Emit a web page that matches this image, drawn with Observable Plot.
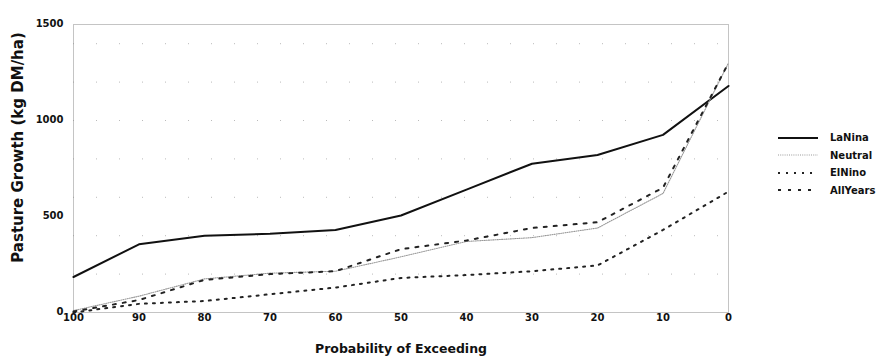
<!DOCTYPE html>
<html><head><meta charset="utf-8">
<script src="https://cdn.jsdelivr.net/npm/d3@7"></script>
<script src="https://cdn.jsdelivr.net/npm/@observablehq/plot@0.6"></script>
<style>
body{margin:0;background:#fff;font-family:"DejaVu Sans",Arial,sans-serif;}
#wrap{position:relative;width:884px;height:361px;}
#legend{position:absolute;left:778px;top:129px;font:bold 10px "DejaVu Sans",Arial,sans-serif;color:#111;}
#legend .row{display:flex;align-items:center;height:17.5px;}
#legend svg{margin-right:12px;}
</style></head>
<body><div id="wrap"><div id="chart"></div><div id="legend"></div></div>
<script>
const probability = [100, 90, 80, 70, 60, 50, 40, 30, 20, 10, 0];
const laNina  = [185, 355, 400, 410, 430, 505, 640, 775, 820, 925, 1180];
const neutral = [10, 85, 175, 205, 215, 290, 370, 390, 440, 620, 1300];
const elNino  = [0, 45, 60, 95, 130, 180, 195, 215, 245, 430, 630];
const allYears = [5, 65, 170, 200, 215, 330, 375, 440, 470, 650, 1300];
const seriesNames = ["LaNina", "Neutral", "ElNino", "AllYears"];
const seriesValues = [laNina, neutral, elNino, allYears];
const yTicks = [0, 500, 1000, 1500];
const xTicks = [100, 90, 80, 70, 60, 50, 40, 30, 20, 10, 0];
const gridTicks = [200, 400, 600, 800, 1000, 1200, 1400];
const xLabel = "Probability of Exceeding";
const yLabel = "Pasture Growth (kg DM/ha)";

const styles = {
  LaNina:  {stroke: "#111", strokeWidth: 2, strokeDasharray: null},
  Neutral: {stroke: "#999", strokeWidth: 1.1, strokeDasharray: "1,1.2"},
  ElNino:  {stroke: "#222", strokeWidth: 2, strokeDasharray: "2,6"},
  AllYears:{stroke: "#222", strokeWidth: 2, strokeDasharray: "3,7"}
};

const rows = [];
seriesNames.forEach((s, i) => probability.forEach((p, j) => rows.push({series: s, p, v: seriesValues[i][j]})));

const font = "DejaVu Sans, Arial, sans-serif";
const chart = Plot.plot({
  width: 884, height: 361,
  marginLeft: 73, marginRight: 156, marginTop: 24, marginBottom: 49,
  style: {fontFamily: font, fontSize: "10px", fontWeight: "bold", color: "#111", background: "#fff"},
  x: {domain: [100, 0]},
  y: {domain: [0, 1500]},
  marks: [
    Plot.ruleY(gridTicks, {stroke: "#bbb", strokeWidth: 1, strokeDasharray: "1,22"}),
    Plot.frame({stroke: "#888", strokeDasharray: "1,1"}),
    ...seriesNames.map(s => Plot.line(rows.filter(r => r.series === s), {
      x: "p", y: "v", ...Object.fromEntries(Object.entries(styles[s]).filter(([k, v]) => v != null))
    })),
    Plot.axisX({ticks: xTicks, tickSize: 0, tickPadding: 1, fontSize: 10, fontWeight: "bold", tickFormat: d => String(d), label: null}),
    Plot.axisY({ticks: yTicks, tickSize: 0, tickPadding: 10, fontSize: 10, fontWeight: "bold", tickFormat: d => String(d), label: null, dy: -1}),
    Plot.text([xLabel], {text: d => d, frameAnchor: "bottom", dy: 40, fontSize: 12.5, fontWeight: "bold"}),
    Plot.text([yLabel], {text: d => d, frameAnchor: "left", textAnchor: "middle", rotate: -90, dx: -55, dy: -21, fontSize: 15, fontWeight: "bold"})
  ]
});
document.getElementById("chart").appendChild(chart);

const leg = d3.select("#legend");
seriesNames.forEach(s => {
  const row = leg.append("div").attr("class", "row");
  const svg = row.append("svg").attr("width", 40).attr("height", 8);
  const st = styles[s];
  svg.append("line").attr("x1", 0).attr("x2", 40).attr("y1", 4).attr("y2", 4)
    .attr("stroke", st.stroke).attr("stroke-width", st.strokeWidth)
    .attr("stroke-dasharray", st.strokeDasharray);
  row.append("span").text(s);
});
</script></body></html>
